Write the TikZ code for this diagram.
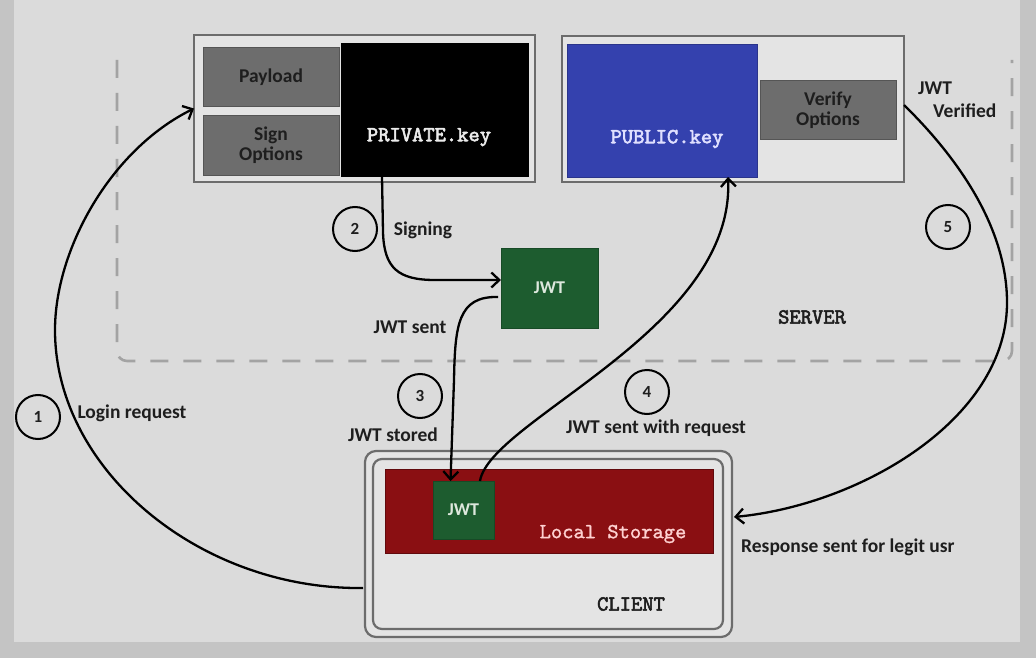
\documentclass[tikz,border=0pt]{standalone}
\usepackage{fontspec}
\setmainfont{Carlito}
\newfontfamily\monof{lmmono10-regular.otf}[FakeBold=1.2]
\newfontfamily\monob{lmmono10-regular.otf}[FakeBold=2.6]
\usetikzlibrary{arrows.meta,calc}
\definecolor{outerbg}{HTML}{C4C4C4}
\definecolor{bg}{HTML}{DBDBDB}
\definecolor{boxfill}{HTML}{E4E4E4}
\definecolor{boxline}{HTML}{6C6C6C}
\definecolor{gfill}{HTML}{6D6D6D}
\definecolor{gline}{HTML}{555555}
\definecolor{dashgray}{HTML}{A3A3A3}
\definecolor{jwtgreen}{HTML}{1D5C2F}
\definecolor{pubblue}{HTML}{3441AE}
\definecolor{lsred}{HTML}{8A0F12}
\definecolor{txt}{HTML}{1E1E1E}
\definecolor{lighttxt}{HTML}{DDE8DD}
\begin{document}
\begin{tikzpicture}[x=1pt,y=-1pt,
  frame/.style={draw=boxline, line width=2.2pt, fill=boxfill, inner sep=0pt, outer sep=0pt},
  graybox/.style={draw=gline, line width=1pt, fill=gfill, inner sep=0pt, outer sep=0pt,
    minimum width=136, minimum height=59, align=center, text=txt,
    font=\fontsize{19.5}{20}\selectfont\bfseries},
  keybox/.style={inner sep=0pt, outer sep=0pt},
  monotxt/.style={font=\fontsize{21.5}{22}\selectfont\monob, inner sep=0pt},
  lbl/.style={font=\fontsize{19.5}{20}\selectfont\bfseries, text=txt, inner sep=0pt},
  jwtbox/.style={fill=jwtgreen, draw=jwtgreen!80!black, line width=0.6pt, inner sep=0pt, outer sep=0pt,
    text=lighttxt, font=\fontsize{18}{20}\selectfont\bfseries},
  numc/.style={circle, draw=black, line width=2pt, minimum size=44, inner sep=0pt,
    font=\fontsize{17}{18}\selectfont\bfseries, text=txt},
  conn/.style={draw=black, line width=2.3pt, -{Straight Barb[length=8pt,width=15pt]}}
]
\useasboundingbox (0,0) rectangle (1036,658);
\fill[outerbg] (0,0) rectangle (1036,658);
\fill[bg] (14,0) rectangle (1020,642);

% server dashed boundary
\draw[dashgray, line width=2.6pt, dash pattern=on 18pt off 15pt, rounded corners=10pt]
  (117,60) -- (117,361) -- (1012,361) -- (1012,60);
\node[monotxt, text=txt] (server) at (812,317) {SERVER};

% left server box
\node[frame, minimum width=341, minimum height=147] (lbox) at (364.5,108.5) {};
\node[graybox] (payload) at (271,77.5) {Payload};
\node[graybox] (signopt) at (271,145.5) {Sign\\Options};
\node[keybox, fill=black, minimum width=188, minimum height=134] (priv) at (435,110) {};
\node[monotxt, text=white!92!black] (privtxt) at (429,137) {PRIVATE.key};

% right server box
\node[frame, minimum width=342, minimum height=146] (rbox) at (733,109) {};
\node[keybox, fill=pubblue, draw=pubblue!80!black, line width=0.6pt, minimum width=190, minimum height=133] (pub) at (662,110.5) {};
\node[monotxt, text=white!88!blue] (pubtxt) at (667,139) {PUBLIC.key};
\node[graybox] (verify) at (828,110.5) {Verify\\Options};
\node[lbl, anchor=west] (jwtv1) at (918,88) {JWT};
\node[lbl, anchor=west] (jwtv2) at (933,111) {Verified};

% server JWT
\node[jwtbox, minimum width=97, minimum height=80] (jwts) at (549.5,288) {JWT};

% client
\node[draw=boxline, line width=2.2pt, fill=boxfill, rounded corners=11pt, minimum width=367, minimum height=186, inner sep=0pt, outer sep=0pt] (clientout) at (548.5,544) {};
\node[draw=boxline, line width=2.2pt, rounded corners=9pt, minimum width=350, minimum height=170, inner sep=0pt, outer sep=0pt] (clientin) at (548,544) {};
\node[keybox, fill=lsred, draw=lsred!70!black, line width=0.6pt, minimum width=328, minimum height=84] (local) at (549,511) {};
\node[font=\fontsize{21.5}{22}\selectfont\monof, text=white!82!red, inner sep=0pt] (localtxt) at (613,534) {Local Storage};
\node[jwtbox, minimum width=61, minimum height=58] (jwtc) at (463.5,510) {JWT};
\node[monotxt, text=txt] (clienttxt) at (631,604) {CLIENT};

% numbered circles and labels
\node[numc] (n1) at (38,417) {1};
\node[lbl] (l1) at (132,413) {Login request};
\node[numc] (n2) at (355,229) {2};
\node[lbl] (l2) at (423,230) {Signing};
\node[numc] (n3) at (420,396) {3};
\node[lbl] (l3s) at (410,327) {JWT sent};
\node[lbl] (l3) at (393,435) {JWT stored};
\node[numc] (n4) at (647,392) {4};
\node[lbl] (l4) at (656,428) {JWT sent with request};
\node[numc] (n5) at (948,227) {5};
\node[lbl, anchor=west] (l5) at (741,547) {Response sent for legit usr};

% connectors
% 1: login request
\draw[conn] ($(clientout.west)+(-2,44)$) .. controls (200,590) and (55,470) .. (55,330)
  .. controls (55,250) and (110,150) .. (lbox.west);
% 2: signing
\draw[conn] ($(priv.south)+(-53,0)$) -- (383,232) .. controls (384,268) and (398,280) .. (435,280)
  -- ($(jwts.west)+(0,-8)$);
% 3: JWT sent / stored
\draw[conn] ($(jwts.west)+(-3,9)$) .. controls (458,296) and (455,325) .. (454,380)
  -- ($(jwtc.north)+(-13,0)$);
% 4: JWT sent with request
\draw[conn] ($(jwtc.north)+(16.5,0)$) .. controls (490,420) and (735,330) .. ($(pub.south)+(66,0)$);
% 5: verified -> response
\draw[conn] ($(rbox.east)+(0,-4)$) .. controls (960,160) and (1008,230) .. (1007,305)
  .. controls (1005,420) and (860,505) .. ($(clientout.east)+(2,-27)$);
\end{tikzpicture}
\end{document}
